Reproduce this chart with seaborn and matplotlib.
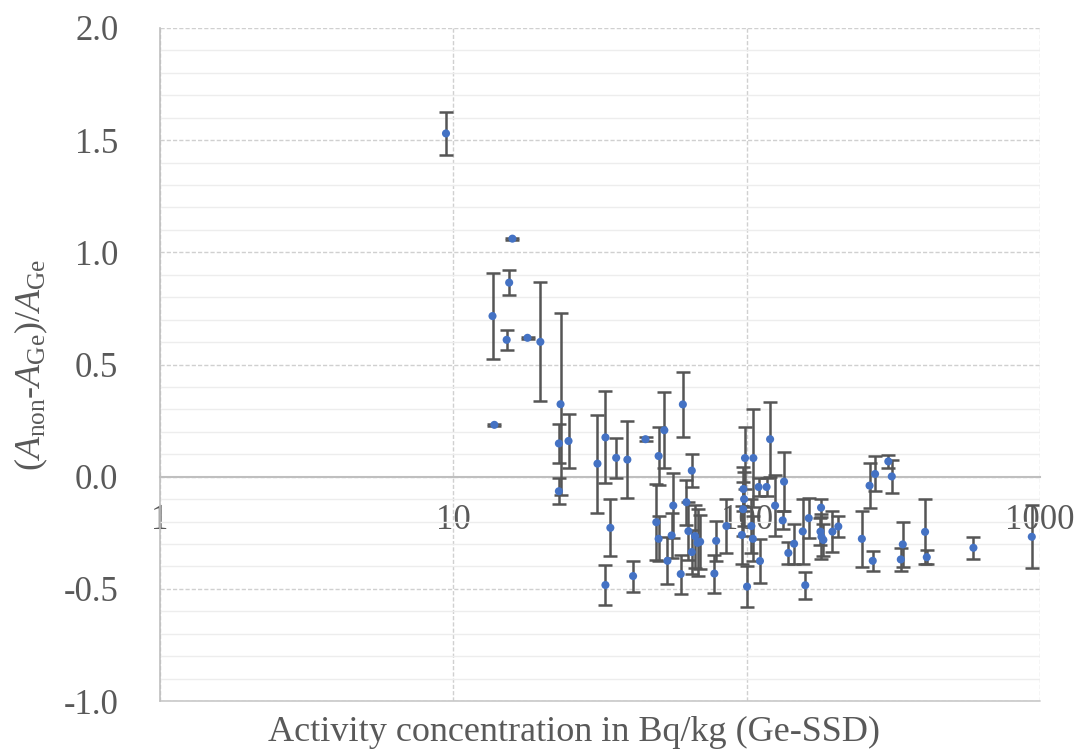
import numpy as np
import pandas as pd
import matplotlib
matplotlib.use("Agg")
import matplotlib.pyplot as plt
import seaborn as sns
from matplotlib.ticker import FixedLocator, MultipleLocator, LogLocator, NullFormatter, FixedFormatter

# ---- data ----
activity_bq_kg = [
    9.44, 13.6, 13.8, 15.2, 15.5, 15.9, 17.9, 19.8, 22.9, 22.9,
    23.2, 24.7, 31.0, 33.0, 33.0, 34.3, 35.9, 39.2, 41.0, 45.2,
    49.2, 50.1, 50.1, 52.4, 53.7, 55.5, 56.2, 59.6, 60.6, 62.3,
    63.3, 65.0, 65.0, 66.7, 68.0, 69.4, 77.6, 78.7, 85.3, 98.7,
    105.4, 97.5, 98.0, 97.3, 96.3, 103.8, 105.0, 100.3, 111.0, 109.8,
    116.9, 120.2, 125.0, 132.7, 134.1, 138.7, 145.1, 155.3, 158.4, 162.8,
    179.3, 178.5, 179.9, 182.6, 196.1, 205.3, 247.0, 262.4, 269.0, 274.0,
    304.0, 312.4, 335.3, 340.6, 405.7, 411.2, 593.0, 937.6,
]
relative_diff = [
    1.53, 0.716, 0.231, 0.61, 0.865, 1.061, 0.619, 0.601, 0.148, -0.065,
    0.323, 0.159, 0.058, 0.175, -0.483, -0.228, 0.084, 0.076, -0.443, 0.167,
    -0.203, 0.092, -0.277, 0.207, -0.375, -0.262, -0.129, -0.434, 0.322, -0.114,
    -0.243, 0.027, -0.336, -0.265, -0.295, -0.29, -0.432, -0.286, -0.22, 0.083,
    0.083, -0.055, -0.1, -0.145, -0.26, -0.22, -0.277, -0.49, -0.376, -0.046,
    -0.046, 0.167, -0.129, -0.195, -0.022, -0.34, -0.299, -0.244, -0.484, -0.185,
    -0.138, -0.245, -0.268, -0.282, -0.245, -0.222, -0.277, -0.04, -0.375, 0.012,
    0.068, 0.001, -0.369, -0.302, -0.246, -0.359, -0.317, -0.268,
]
relative_diff_err = [
    0.095, 0.19, 0.005, 0.045, 0.057, 0.005, 0.005, 0.265, 0.088, 0.057,
    0.406, 0.12, 0.218, 0.205, 0.089, 0.127, 0.09, 0.17, 0.069, 0.01,
    0.17, 0.13, 0.1, 0.17, 0.105, 0.1, 0.145, 0.087, 0.143, 0.1,
    0.13, 0.075, 0.1, 0.14, 0.15, 0.12, 0.085, 0.09, 0.12, 0.14,
    0.22, 0.1, 0.12, 0.12, 0.13, 0.12, 0.1, 0.09, 0.1, 0.04,
    0.04, 0.167, 0.135, 0.04, 0.13, 0.05, 0.09, 0.144, 0.06, 0.09,
    0.04, 0.06, 0.1, 0.07, 0.09, 0.045, 0.126, 0.1, 0.045, 0.078,
    0.03, 0.073, 0.05, 0.1, 0.145, 0.03, 0.048, 0.14,
]
x_tick_values = [1, 10, 100, 1000]
x_tick_labels = ["1", "10", "100", "1000"]
y_tick_values = [-1.0, -0.5, 0.0, 0.5, 1.0, 1.5, 2.0]
y_tick_labels = ["-1.0", "-0.5", "0.0", "0.5", "1.0", "1.5", "2.0"]
x_label = "Activity concentration in Bq/kg (Ge-SSD)"
y_label = r"$(A_{\mathrm{non}}$-$A_{\mathrm{Ge}})/A_{\mathrm{Ge}}$"

df = pd.DataFrame({"x": activity_bq_kg, "y": relative_diff, "err": relative_diff_err})

sns.set_theme(style="white")
plt.rcParams["font.family"] = ["Liberation Serif", "DejaVu Serif"]
plt.rcParams["mathtext.fontset"] = "custom"
plt.rcParams["mathtext.rm"] = "Liberation Serif"
plt.rcParams["mathtext.it"] = "Liberation Serif:italic"
plt.rcParams["mathtext.bf"] = "Liberation Serif:bold"

TEXT = "#595959"
W, H = 1085, 749
fig = plt.figure(figsize=(W / 100, H / 100), dpi=100)
L, R, T, B = 160, 1040, 28, 701
ax = fig.add_axes([L / W, 1 - B / H, (R - L) / W, (B - T) / H])

ax.errorbar(df["x"], df["y"], yerr=df["err"], fmt="none", ecolor="#555555",
            elinewidth=1.8, capsize=5.2, capthick=1.8, zorder=3)
sns.scatterplot(data=df, x="x", y="y", color="#4472C4", s=34, edgecolor="none",
                linewidth=0, zorder=4, ax=ax)

ax.set_xscale("log")
ax.set_xlim(1, 1000)
ax.set_ylim(-1, 2)

# ticks
ax.xaxis.set_major_locator(FixedLocator(x_tick_values))
ax.xaxis.set_major_formatter(FixedFormatter(x_tick_labels))
ax.xaxis.set_minor_locator(LogLocator(base=10, subs=np.arange(2, 10), numticks=20))
ax.xaxis.set_minor_formatter(NullFormatter())
ax.yaxis.set_major_locator(FixedLocator(y_tick_values))
ax.yaxis.set_major_formatter(FixedFormatter(y_tick_labels))
ax.yaxis.set_minor_locator(MultipleLocator(0.1))

ax.tick_params(axis="x", which="major", direction="inout", length=0, pad=20,
               labelsize=25, labelcolor=TEXT)
ax.tick_params(axis="x", which="minor", direction="inout", length=12, width=1.2,
               color="#BFBFBF")
ax.tick_params(axis="y", which="both", length=0, pad=30, labelsize=25, labelcolor=TEXT)

# grid
ax.grid(which="minor", axis="y", color="#EDEDED", linewidth=1.0, linestyle="-", zorder=0)
ax.grid(which="major", axis="y", color="#D0D0D0", linewidth=1.0, linestyle=(0, (3, 1.5)), zorder=0)
ax.grid(which="major", axis="x", color="#D0D0D0", linewidth=1.0, linestyle=(0, (3, 1.5)), zorder=0)
ax.set_axisbelow(True)

# spines
for s in ["top", "right"]:
    ax.spines[s].set_visible(False)
ax.spines["left"].set_color("#BFBFBF")
ax.spines["left"].set_linewidth(1.2)
ax.spines["bottom"].set_position(("data", 0))
ax.spines["bottom"].set_color("#BFBFBF")
ax.spines["bottom"].set_linewidth(1.5)
ax.axhline(-1, color="#C8C8C8", linewidth=1.2, zorder=1, clip_on=False)

ax.set_xlabel(x_label, fontsize=26, color=TEXT)
ax.xaxis.set_label_coords((574 - L) / (R - L), -0.022)
ax.set_ylabel(y_label, fontsize=26, color=TEXT)
ax.yaxis.set_label_coords((50 - L) / (R - L), 0.5)

fig.savefig("out.png", dpi=100)
